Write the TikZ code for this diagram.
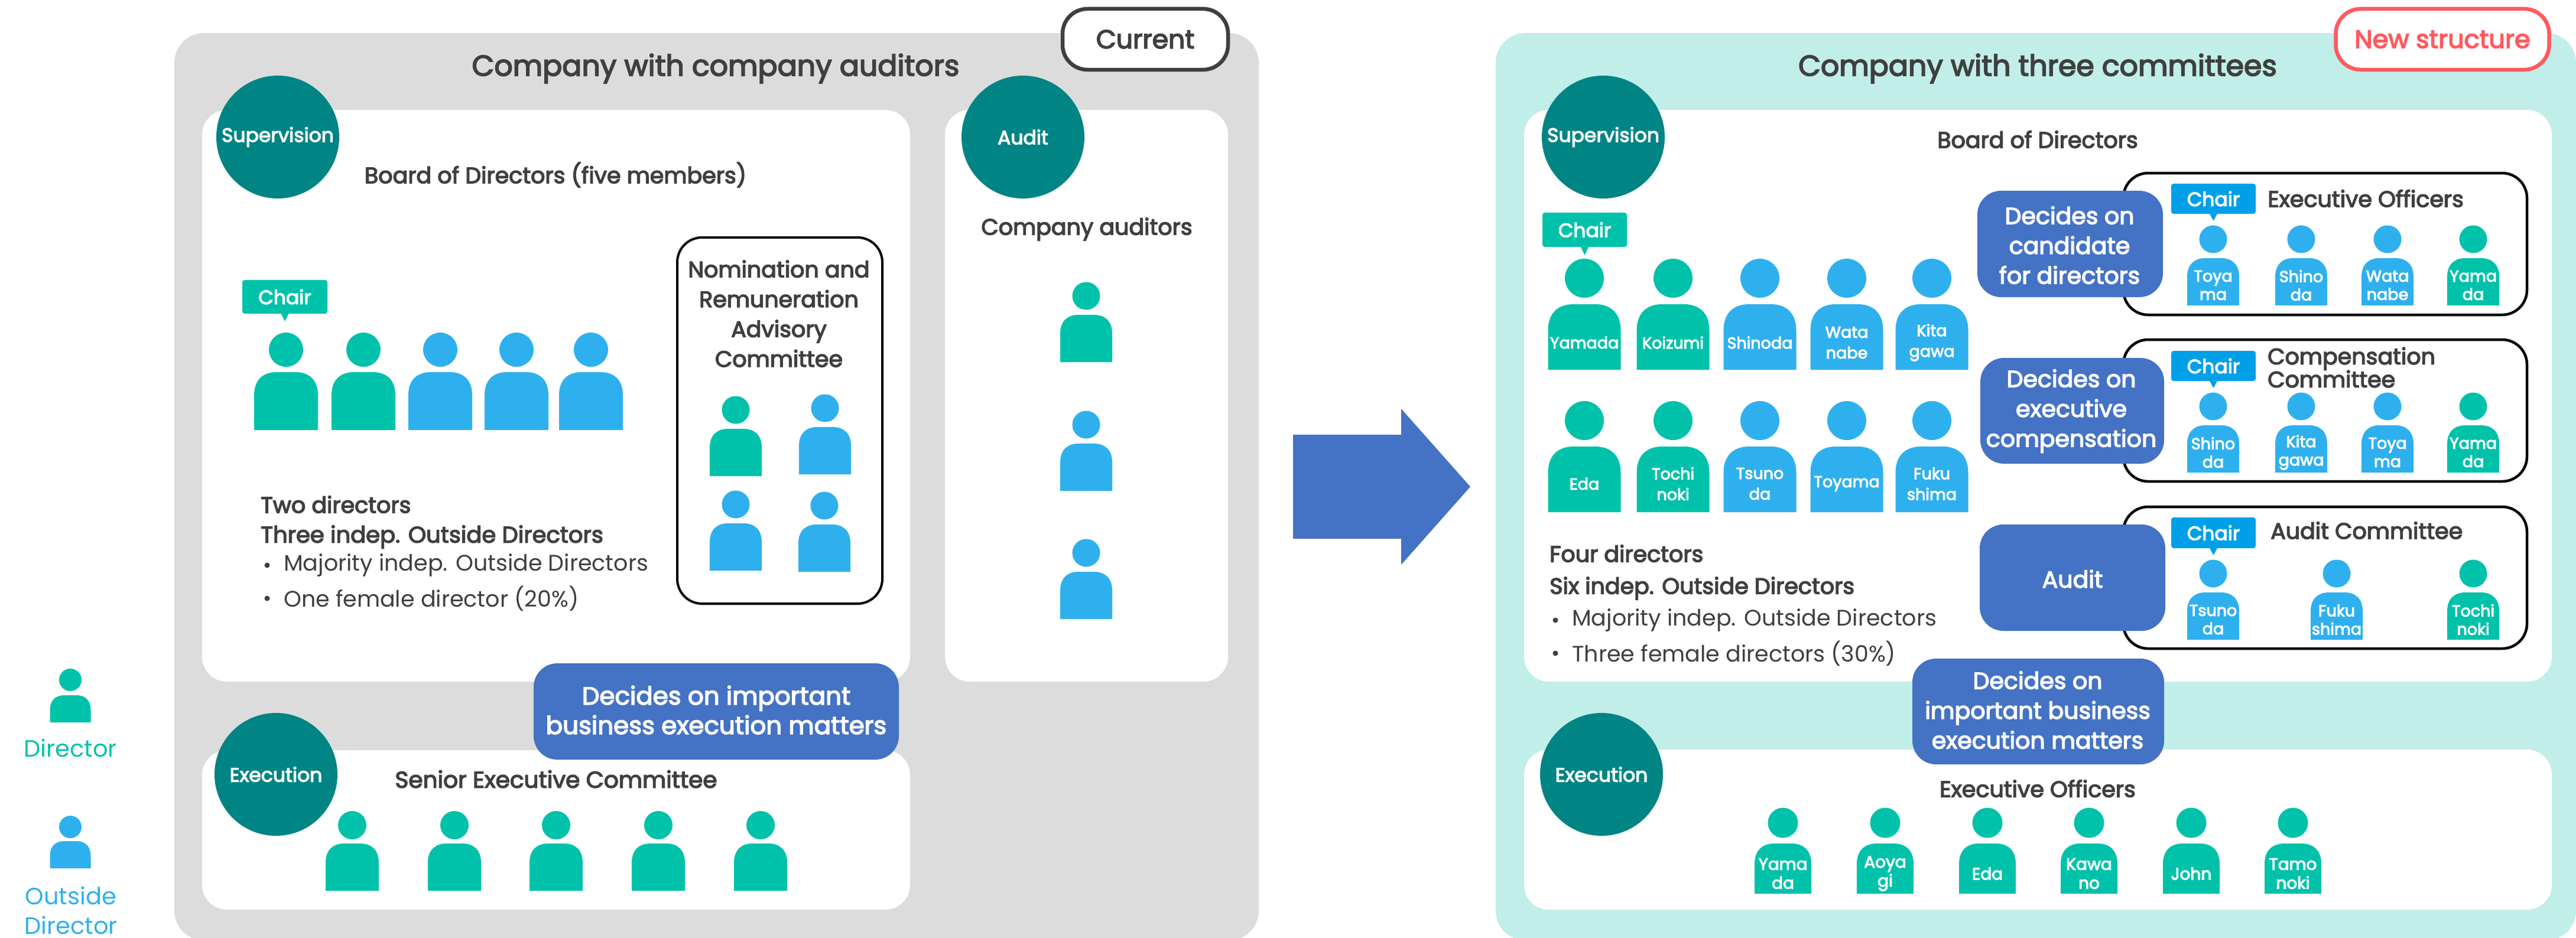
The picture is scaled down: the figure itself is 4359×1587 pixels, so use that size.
\documentclass[tikz,border=0pt]{standalone}
\usepackage{fontspec}
\setmainfont{Poppins}
\newfontfamily\mfont{Poppins}[FakeBold=3.5]
\definecolor{grp}{HTML}{DCDCDC}
\definecolor{mint}{HTML}{C1EEE8}
\definecolor{circ}{HTML}{008484}
\definecolor{tl}{HTML}{00C2AA}
\definecolor{sky}{HTML}{2FB0EE}
\definecolor{chb}{HTML}{00A0E9}
\definecolor{bb}{HTML}{4472C4}
\definecolor{ink}{HTML}{3F3F3F}
\definecolor{red1}{HTML}{FF5A5F}
\newcommand{\fsz}[2]{\fontsize{#1}{#2}\selectfont}
% cx, bottom, w, h, dy, r, colour
\newcommand{\persona}[7]{%
  \fill[#7] ({#1-#3/2},#2) -- ({#1-#3/2},{#2-#4+0.36*#3})
    .. controls ({#1-#3/2},{#2-#4+0.12*#3}) and ({#1-0.36*#3},{#2-#4}) .. ({#1-0.15*#3},{#2-#4})
    -- ({#1+0.15*#3},{#2-#4})
    .. controls ({#1+0.36*#3},{#2-#4}) and ({#1+#3/2},{#2-#4+0.12*#3}) .. ({#1+#3/2},{#2-#4+0.36*#3})
    -- ({#1+#3/2},#2) -- cycle;
  \fill[#7] (#1,{#2-#5}) circle ({#6});}
\newcommand{\pbig}[3]{\persona{#1}{#2}{108}{98}{136}{29}{#3}}
\newcommand{\pmid}[3]{\persona{#1}{#2}{88}{80}{112}{23.5}{#3}}
\newcommand{\prow}[3]{\persona{#1}{#2}{123}{111}{155}{33}{#3}}
\newcommand{\pex}[3]{\persona{#1}{#2}{96}{85}{120}{25.5}{#3}}
% chair tag: name, x1,y1,x2,y2,tipy, colour
\newcommand{\chairtag}[7]{%
  \fill[#7,rounded corners=4pt] (#2,#3) rectangle (#4,#5);
  \fill[#7] ({(#2+#4)/2-7},{#5-1}) -- ({(#2+#4)/2},#6) -- ({(#2+#4)/2+7},{#5-1}) -- cycle;
  \node[wt,font=\mfont\fsz{33}{40}] (#1) at ({(#2+#4)/2},{(#3+#5)/2}) {Chair};}
\newcommand{\lowered}[1]{\raisebox{-3pt}{#1}}
\tikzset{
  panel/.style={rounded corners=50pt},
  card/.style={fill=white,rounded corners=42pt},
  comm/.style={draw=black,line width=4.5pt,fill=white,rounded corners=42pt},
  role/.style={circle,fill=circ,minimum size=208pt,inner sep=0pt,text=white,font=\mfont\fsz{33}{40}},
  bluebox/.style={fill=bb,rounded corners=40pt},
  wt/.style={text=white,inner sep=0pt,align=center},
  dk/.style={text=ink,inner sep=0pt,align=center},
  pill/.style={line width=6.5pt,fill=white,rounded corners=42pt},
}
\begin{document}
\begin{tikzpicture}[x=1pt,y=-1pt]
\useasboundingbox (0,0) rectangle (4359,1587);
\clip (0,0) rectangle (4359,1587);
% ---------- left panel
\fill[grp,panel] (295,56) rectangle (2130,1592);
\node[pill,draw=ink,minimum width=280pt,minimum height=103pt,inner sep=0pt,text=ink,font=\mfont\fsz{44}{50}] (cur) at (1938,66.5) {Current};
\node[dk,font=\mfont\fsz{49}{56}] (t1) at (1211,116) {Company with company auditors};
\fill[card] (342,186) rectangle (1540,1154);
\fill[card] (1599,186) rectangle (2078,1154);
\fill[card] (342,1270) rectangle (1540,1540);
\node[role] (sup1) at (470,232) {\lowered{Supervision}};
\node[role] (aud1) at (1731,232) {\lowered{Audit}};
\node[dk,font=\mfont\fsz{38}{46}] (b1) at (940,296) {Board of Directors (five members)};
\node[dk,font=\mfont\fsz{38}{46}] (ca) at (1839,388) {Company auditors};
\chairtag{ch1}{410}{474}{554}{531}{544}{tl}
\pbig{484}{728}{tl}\pbig{615}{728}{tl}\pbig{745}{728}{sky}\pbig{874}{728}{sky}\pbig{1000}{728}{sky}
\draw[black,line width=4pt,rounded corners=42pt] (1146,402) rectangle (1493,1022);
\node[dk,font=\mfont\fsz{38}{50.5}] (nom) at (1318,531) {Nomination and\\Remuneration\\Advisory\\Committee};
\pmid{1245}{806}{tl}\pmid{1396}{803}{sky}\pmid{1245}{966}{sky}\pmid{1395}{968}{sky}
\node[dk,anchor=west,font=\mfont\fsz{38}{46}] (l1) at (441,854) {Two directors};
\node[dk,anchor=west,font=\mfont\fsz{38.5}{46}] (l2) at (441,909) {Three indep. Outside Directors};
\fill[ink] (452,957) circle (4.5pt);\fill[ink] (452,1013) circle (4.5pt);
\node[dk,anchor=west,font=\fsz{38}{46}] (l3) at (480,957) {Majority indep. Outside Directors};
\node[dk,anchor=west,font=\fsz{38}{46}] (l4) at (480,1013) {One female director (20\%)};
\pmid{1838}{613}{tl}\pmid{1838}{831}{sky}\pmid{1838}{1048}{sky}
\fill[bluebox] (903,1123) rectangle (1521,1286);
\node[wt,font=\mfont\fsz{42}{50}] (dec1) at (1212,1202) {Decides on important\\business execution matters};
\node[role] (ex1) at (467,1311) {\lowered{Execution}};
\node[dk,font=\mfont\fsz{39}{46}] (sec) at (941,1319) {Senior Executive Committee};
\foreach \x in {596,769,941,1114,1287}{\persona{\x}{1508}{90}{80}{111}{24}{tl}}
% ---------- legend
\persona{119}{1223}{69}{46}{72}{19}{tl}
\node[text=tl,inner sep=0pt,font=\fsz{40}{50}] (lg1) at (119,1266) {Director};
\persona{119}{1470}{69}{46}{70}{19}{sky}
\node[text=sky,inner sep=0pt,align=center,font=\fsz{40}{50}] (lg2) at (120,1541) {Outside\\Director};
% ---------- arrow
\fill[bb] (2188,736) -- (2371,736) -- (2371,692) -- (2488,824) -- (2371,956) -- (2371,912) -- (2188,912) -- cycle;
% ---------- right panel
\fill[mint,panel] (2531,56) rectangle (4359,1592);
\node[pill,draw=red1,minimum width=361pt,minimum height=103pt,inner sep=0pt,text=red1,font=\mfont\fsz{43}{50}] (new) at (4133,66.5) {New structure};
\node[dk,font=\mfont\fsz{49}{56}] (t2) at (3448,116) {Company with three committees};
\fill[card] (2579,186) rectangle (4318,1154);
\fill[card] (2579,1269) rectangle (4318,1540);
\node[role] (sup2) at (2713,232) {\lowered{Supervision}};
\node[role] (ex2) at (2710,1311) {\lowered{Execution}};
\node[dk,font=\mfont\fsz{38}{46}] (b2) at (3448,236) {Board of Directors};
\chairtag{ch2}{2610}{360}{2753}{418}{432}{tl}
\foreach \x/\c/\nm/\i in {2681/tl/Yamada/a,2831/tl/Koizumi/b,2978/sky/Shinoda/c,3125/sky/Wata\\nabe/d,3269/sky/Kita\\gawa/e}{%
  \prow{\x}{626}{\c}
  \node[wt,font=\mfont\fsz{27}{35}] (r1\i) at (\x,{580}) {\nm};}
\foreach \x/\c/\nm/\i in {2681/tl/Eda/a,2831/tl/Tochi\\noki/b,2978/sky/Tsuno\\da/c,3125/sky/Toyama/d,3269/sky/Fuku\\shima/e}{%
  \prow{\x}{867}{\c}
  \node[wt,font=\mfont\fsz{27}{35}] (r2\i) at (\x,{819}) {\nm};}
\node[dk,anchor=west,font=\mfont\fsz{38}{46}] (l5) at (2622,937) {Four directors};
\node[dk,anchor=west,font=\mfont\fsz{38}{46}] (l6) at (2622,996) {Six indep. Outside Directors};
\fill[ink] (2632,1050) circle (4.5pt);\fill[ink] (2632,1106) circle (4.5pt);
\node[dk,anchor=west,font=\fsz{38}{46}] (l7) at (2660,1050) {Majority indep. Outside Directors};
\node[dk,anchor=west,font=\fsz{38}{46}] (l8) at (2660,1106) {Three female directors (30\%)};
% committees
\filldraw[comm] (3593,293) rectangle (4276,533);
\filldraw[comm] (3593,575) rectangle (4276,815);
\filldraw[comm] (3593,858) rectangle (4276,1098);
\fill[bluebox] (3346,323) rectangle (3660,503);
\fill[bluebox] (3351,606) rectangle (3662,785);
\fill[bluebox] (3350,888) rectangle (3664,1068);
\fill[bluebox] (3236,1115) rectangle (3662,1294);
\node[wt,font=\mfont\fsz{39.5}{50.5}] (d1) at (3502,415) {Decides on\\candidate\\for directors};
\node[wt,font=\mfont\fsz{39.5}{50.5}] (d2) at (3505,696) {Decides on\\executive\\compensation};
\node[wt,font=\mfont\fsz{39.5}{50.5}] (d3) at (3507,980) {Audit};
\node[wt,font=\mfont\fsz{39.5}{50.5}] (d4) at (3448,1202) {Decides on\\important business\\execution matters};
\chairtag{ch3}{3674}{311}{3817}{362}{374}{chb}
\chairtag{ch4}{3674}{594}{3817}{645}{657}{chb}
\chairtag{ch5}{3674}{876}{3817}{928}{940}{chb}
\node[dk,anchor=west,font=\mfont\fsz{38}{46}] (h1) at (3837,336) {Executive Officers};
\node[dk,anchor=west,align=left,font=\mfont\fsz{38}{39}] (h2) at (3837,622) {Compensation\\Committee};
\node[dk,anchor=west,font=\mfont\fsz{38}{46}] (h3) at (3842,898) {Audit Committee};
\foreach \x/\c/\nm/\i in {3745/sky/Toya\\ma/a,3894/sky/Shino\\da/b,4040/sky/Wata\\nabe/c,4185/tl/Yama\\da/d}{%
  \pmid{\x}{517}{\c}
  \node[wt,font=\mfont\fsz{27}{31}] (s1\i) at (\x,483) {\nm};}
\foreach \x/\c/\nm/\i in {3745/sky/Shino\\da/a,3894/sky/Kita\\gawa/b,4040/sky/Toya\\ma/c,4185/tl/Yama\\da/d}{%
  \pmid{\x}{800}{\c}
  \node[wt,font=\mfont\fsz{27}{31}] (s2\i) at (\x,766) {\nm};}
\foreach \x/\c/\nm/\i in {3745/sky/Tsuno\\da/a,3954/sky/Fuku\\shima/b,4185/tl/Tochi\\noki/c}{%
  \pmid{\x}{1083}{\c}
  \node[wt,font=\mfont\fsz{27}{31}] (s3\i) at (\x,1049) {\nm};}
\node[dk,font=\mfont\fsz{38}{46}] (eo) at (3448,1335) {Executive Officers};
\foreach \x/\nm/\i in {3017/Yama\\da/a,3190/Aoya\\gi/b,3363/Eda/c,3535/Kawa\\no/d,3708/John/e,3880/Tamo\\noki/f}{%
  \pex{\x}{1513}{tl}
  \node[wt,font=\mfont\fsz{28}{32}] (e\i) at (\x,1479) {\nm};}
\end{tikzpicture}
\end{document}
